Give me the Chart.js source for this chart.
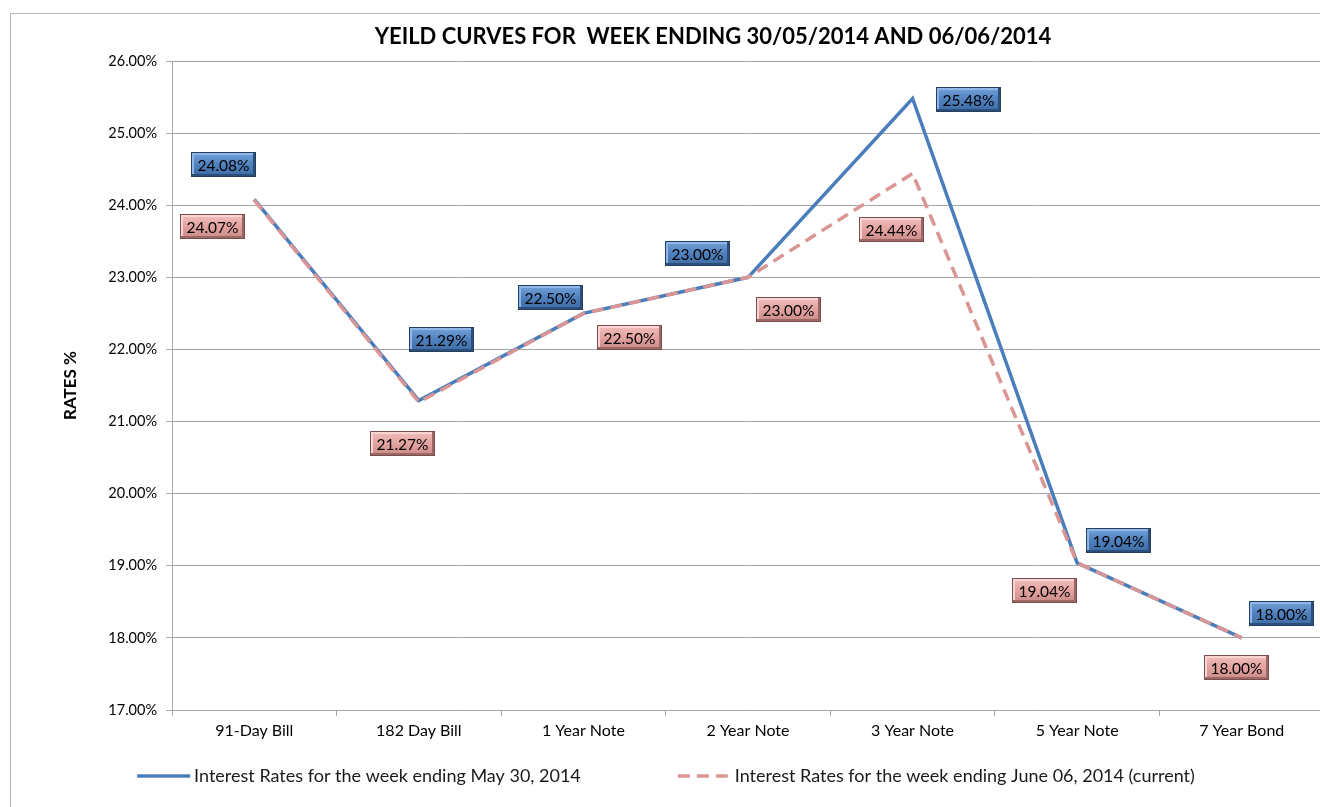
<!DOCTYPE html>
<html>
<head>
<meta charset="utf-8">
<title>Yield curves</title>
<script src="https://cdn.jsdelivr.net/npm/chart.js@4.4.1/dist/chart.umd.min.js"></script>
<style>
  html, body { margin: 0; padding: 0; background: #fff; overflow: hidden; width: 1320px; height: 807px; }
  #frame { position: absolute; left: 10px; top: 13px; width: 1340px; height: 820px; border: 1px solid #b3b3b3; background: #fff; }
  #frame canvas { position: absolute; left: 0; top: 0; }
</style>
</head>
<body>
<div id="frame"><canvas id="yield-chart" width="1314" height="800" style="width:1314px;height:800px"></canvas></div>
<script>
// categorias e valores
const maturities = ["91-Day Bill", "182 Day Bill", "1 Year Note", "2 Year Note", "3 Year Note", "5 Year Note", "7 Year Bond"];
const ratesMay30 = [24.08, 21.29, 22.50, 23.00, 25.48, 19.04, 18.00];
const ratesJune06 = [24.07, 21.27, 22.50, 23.00, 24.44, 19.04, 18.00];
const yTicks = [17, 18, 19, 20, 21, 22, 23, 24, 25, 26];
const chartTitle = "YEILD CURVES FOR  WEEK ENDING 30/05/2014 AND 06/06/2014";

// deslocamento (px) das etiquetas em relação ao ponto
const offsetsMay = [[-31, -35], [23, -61], [-33, -16], [-51, -24], [56, 1], [41, -22], [40, -24]];
const offsetsJune = [[-42, 26], [-16, 41], [46, 24], [40, 32], [-21, 56], [-33, 28], [-5, 30]];

const FONT = "Lato, 'Open Sans', sans-serif";

const blueBox = { top: "#77a4db", mid: "#4f81bd", bottom: "#3c6aa3", light: "#8fb6e6", dark: "#2b4e7a", edge: "#23405f" };
const pinkBox = { top: "#f2c0be", mid: "#e2a3a1", bottom: "#c98886", light: "#f8d4d2", dark: "#9c6866", edge: "#7a4e4c" };

function drawBox(ctx, cx, cy, text, c) {
  const w = 65, h = 25;
  const x = Math.round(cx - w / 2), y = Math.round(cy - h / 2);
  const g = ctx.createLinearGradient(0, y, 0, y + h);
  g.addColorStop(0, c.top);
  g.addColorStop(0.5, c.mid);
  g.addColorStop(1, c.bottom);
  ctx.fillStyle = g;
  ctx.fillRect(x, y, w, h);
  // efeito de relevo
  ctx.fillStyle = c.light;
  ctx.fillRect(x + 1, y + 1, w - 2, 2);
  ctx.fillRect(x + 1, y + 1, 2, h - 2);
  ctx.fillStyle = c.dark;
  ctx.fillRect(x + 1, y + h - 3, w - 2, 2);
  ctx.fillRect(x + w - 3, y + 1, 2, h - 2);
  ctx.strokeStyle = c.edge;
  ctx.lineWidth = 1;
  ctx.strokeRect(x + 0.5, y + 0.5, w - 1, h - 1);
  ctx.fillStyle = "#000";
  ctx.font = "15.5px " + FONT;
  ctx.textAlign = "center";
  ctx.textBaseline = "middle";
  ctx.fillText(text, x + w / 2, y + h / 2 + 1);
}

// etiquetas de valor
const valueLabels = {
  id: "valueLabels",
  afterDatasetsDraw(chart) {
    const ctx = chart.ctx;
    ctx.save();
    chart.data.datasets.forEach((ds, i) => {
      const meta = chart.getDatasetMeta(i);
      meta.data.forEach((pt, j) => {
        const off = ds.labelOffsets[j];
        drawBox(ctx, pt.x + off[0], pt.y + off[1], ds.data[j].toFixed(2) + "%", ds.boxColors);
      });
    });
    ctx.restore();
  },
};

// título centrado na área do gráfico original (mais larga que a janela)
const titlePlugin = {
  id: "titlePlugin",
  afterDraw(chart) {
    const ctx = chart.ctx;
    ctx.save();
    ctx.font = "bold 22px " + FONT;
    ctx.fillStyle = "#000";
    ctx.textAlign = "center";
    ctx.textBaseline = "middle";
    ctx.fillText(chartTitle, 702, 23);
    ctx.restore();
  },
};

// legenda desenhada no canvas, com linhas longas como no Excel
const lineLegend = {
  id: "lineLegend",
  afterDraw(chart) {
    const ctx = chart.ctx;
    const lineW = 53, textGap = 4, itemGap = 97;
    const y = chart.chartArea.bottom + 66;
    ctx.save();
    ctx.font = "18px " + FONT;
    const items = chart.data.datasets.map((ds) => ({ ds, w: lineW + textGap + ctx.measureText(ds.label).width }));
    const total = items.reduce((s, it) => s + it.w, 0) + itemGap * (items.length - 1);
    let x = 655 - total / 2;
    items.forEach((it) => {
      ctx.strokeStyle = it.ds.borderColor;
      ctx.lineWidth = it.ds.borderWidth;
      ctx.setLineDash(it.ds.borderDash || []);
      ctx.beginPath();
      ctx.moveTo(x, y);
      ctx.lineTo(x + lineW, y);
      ctx.stroke();
      ctx.setLineDash([]);
      ctx.fillStyle = "#1a1a1a";
      ctx.textAlign = "left";
      ctx.textBaseline = "middle";
      ctx.fillText(it.ds.label, x + lineW + textGap, y);
      x += it.w + itemGap;
    });
    ctx.restore();
  },
};

const ctx = document.getElementById("yield-chart").getContext("2d");
const chart = new Chart(ctx, {
  type: "line",
  data: {
    labels: maturities,
    datasets: [
      {
        label: "Interest Rates for the week ending May 30, 2014",
        data: ratesMay30,
        borderColor: "#4a7ebb",
        borderWidth: 3.5,
        pointRadius: 0,
        tension: 0,
        order: 2,
        labelOffsets: offsetsMay,
        boxColors: blueBox,
      },
      {
        label: "Interest Rates for the week ending June 06, 2014 (current)",
        data: ratesJune06,
        borderColor: "#d99694",
        borderWidth: 3.5,
        borderDash: [12, 7],
        pointRadius: 0,
        tension: 0,
        order: 1,
        labelOffsets: offsetsJune,
        boxColors: pinkBox,
      },
    ],
  },
  options: {
    responsive: false,
    animation: false,
    devicePixelRatio: 1,
    layout: { padding: { top: 47, right: 1, bottom: 54, left: 0 } },
    plugins: {
      legend: { display: false },
      tooltip: { enabled: false },
      title: { display: false },
    },
    scales: {
      x: {
        offset: true,
        grid: { display: true, drawOnChartArea: false, offset: true, tickLength: 6, color: "#a6a6a6" },
        border: { color: "#a6a6a6" },
        ticks: { color: "#000", padding: 5, font: { family: FONT, size: 16 } },
        afterFit: (scale) => { scale.height = 50; },
      },
      y: {
        min: 17,
        max: 26,
        afterBuildTicks: (scale) => { scale.ticks = yTicks.map((v) => ({ value: v })); },
        grid: { color: "#a6a6a6", tickLength: 6 },
        border: { color: "#a6a6a6" },
        ticks: {
          color: "#000",
          padding: 9,
          font: { family: FONT, size: 14.5 },
          callback: (v) => v.toFixed(2) + "%",
        },
        title: {
          display: true,
          text: "RATES %",
          color: "#000",
          font: { family: FONT, size: 17, weight: "bold" },
          padding: { top: 49, bottom: 0 },
        },
        afterFit: (scale) => { scale.width = 161; },
      },
    },
  },
  plugins: [valueLabels, titlePlugin, lineLegend],
});
</script>
</body>
</html>
